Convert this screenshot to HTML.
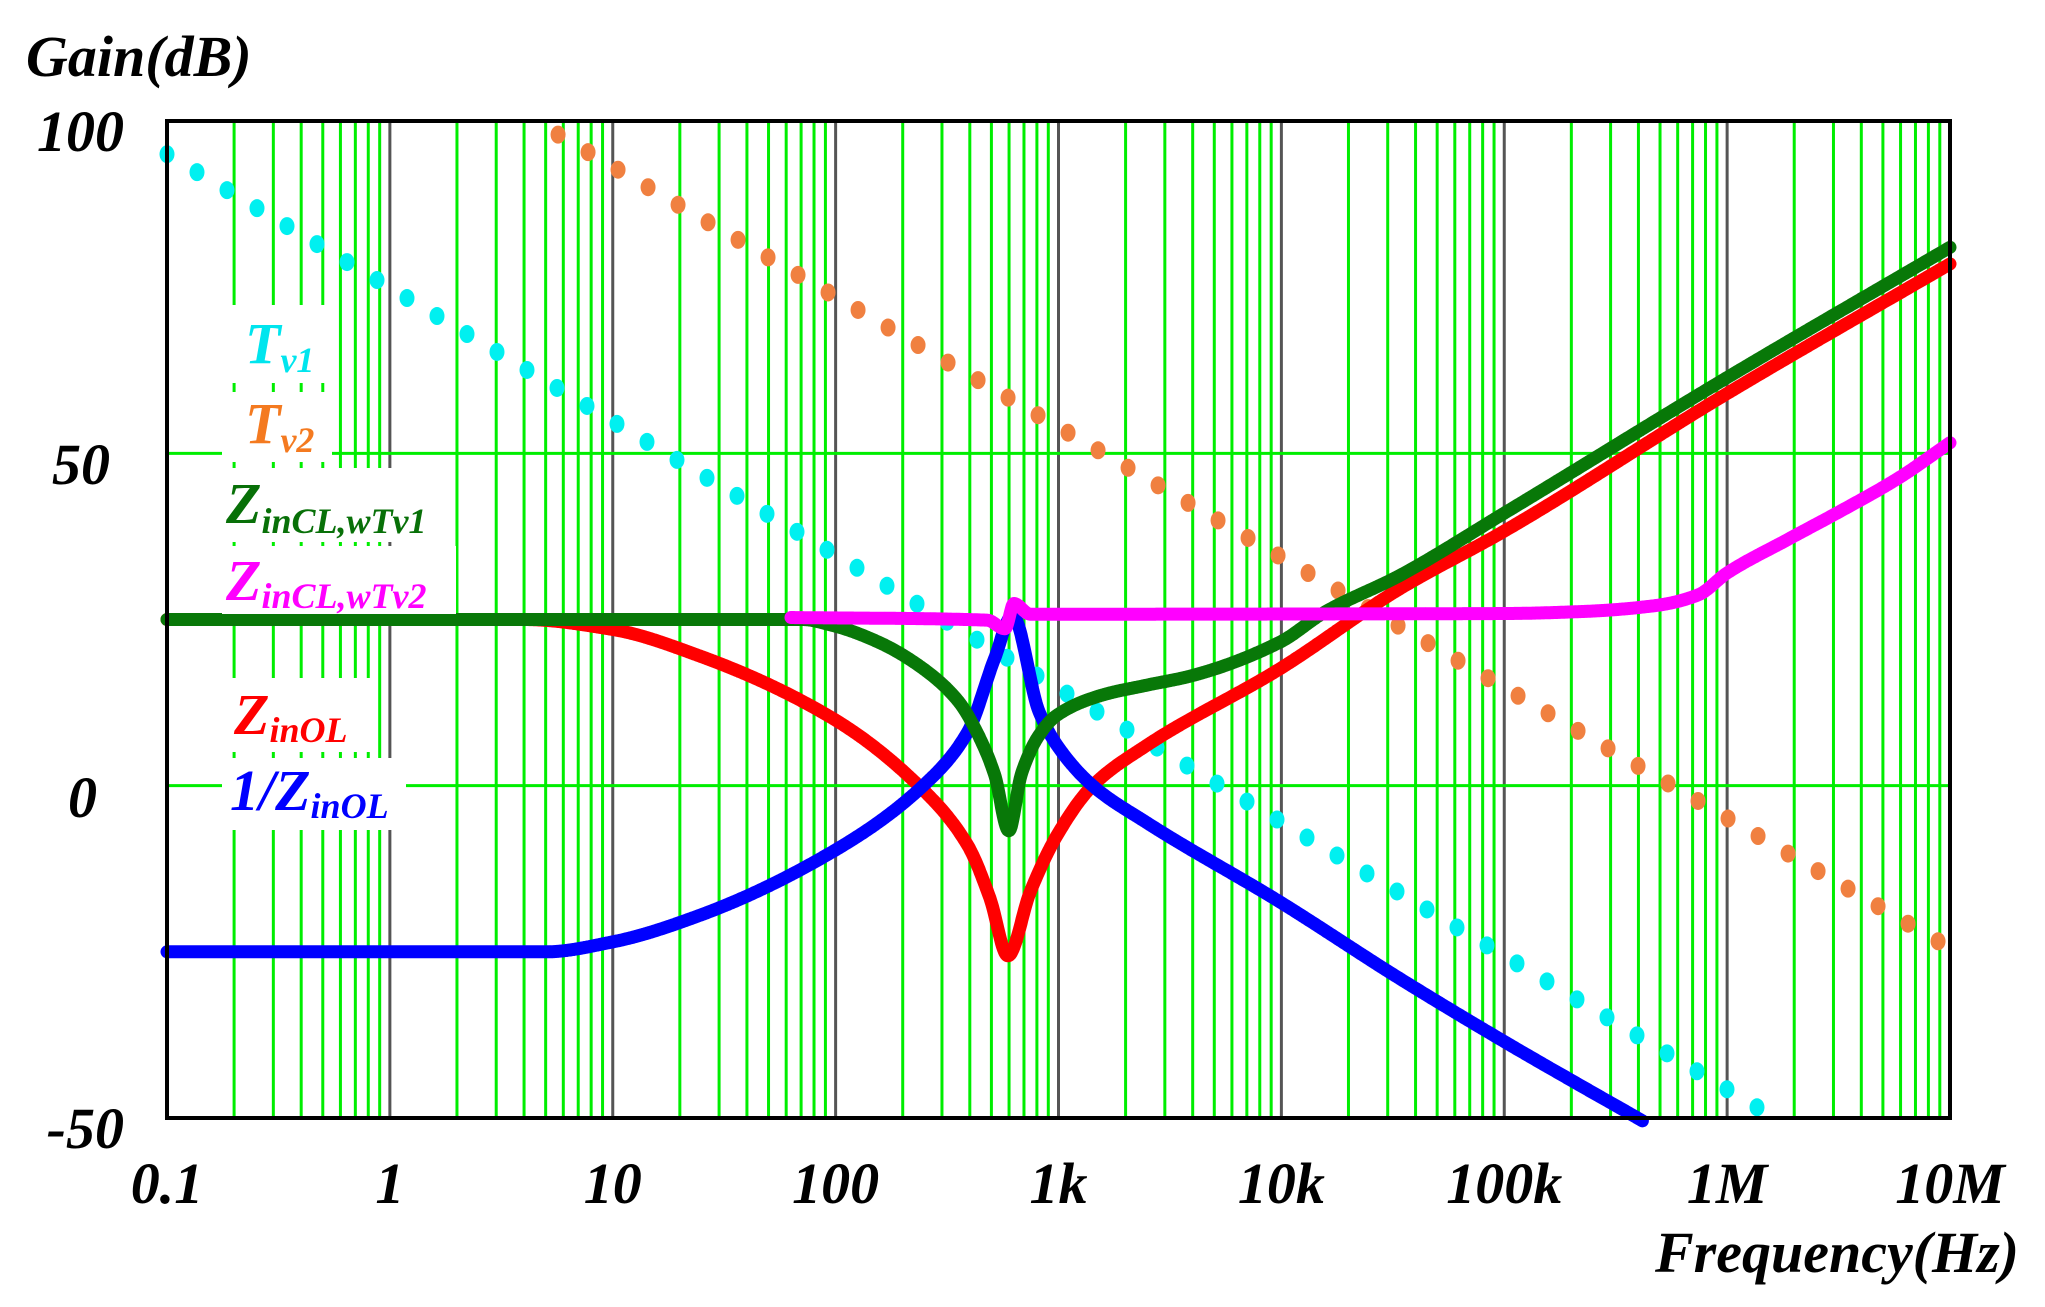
<!DOCTYPE html>
<html><head><meta charset="utf-8"><style>
html,body{margin:0;padding:0;background:#fff;}
svg{display:block;}
text{font-family:"Liberation Serif",serif;font-weight:bold;font-style:italic;}
</style></head><body>
<svg id="s" width="2045" height="1307" viewBox="0 0 2045 1307" xmlns="http://www.w3.org/2000/svg">
<rect width="2045" height="1307" fill="#fff"/>
<g id="grid"></g>
<g id="series"></g>
<g id="legend">
<rect x="222" y="305" width="106" height="78" fill="#fff"/>
<rect x="222" y="392" width="110" height="70" fill="#fff"/>
<rect x="222" y="468" width="172" height="74" fill="#fff"/>
<rect x="222" y="546" width="234" height="68" fill="#fff"/>
<rect x="222" y="678" width="148" height="74" fill="#fff"/>
<rect x="222" y="758" width="184" height="72" fill="#fff"/>
<text x="245" y="363" font-size="58" fill="#00e5ee">T<tspan font-size="36" dy="9">v1</tspan></text>
<text x="245" y="443" font-size="58" fill="#f47a20">T<tspan font-size="36" dy="9">v2</tspan></text>
<text x="226" y="523" font-size="58" fill="#087008">Z<tspan font-size="36" dy="10">inCL,wTv1</tspan></text>
<text x="226" y="600" font-size="58" fill="#ff00ff">Z<tspan font-size="36" dy="8">inCL,wTv2</tspan></text>
<text x="234" y="734" font-size="58" fill="#ff0000">Z<tspan font-size="36" dy="8">inOL</tspan></text>
<text x="230" y="810" font-size="58" fill="#0000ff">1/Z<tspan font-size="36" dy="8">inOL</tspan></text>
</g>
<rect x="167" y="121" width="1783" height="997" fill="none" stroke="#000" stroke-width="4"/>
<g font-size="58" fill="#000">
<text x="26" y="76">Gain(dB)</text>
<text x="124" y="151" text-anchor="end">100</text>
<text x="110" y="484" text-anchor="end">50</text>
<text x="97" y="817" text-anchor="end">0</text>
<text x="124" y="1148" text-anchor="end">-50</text>
<text x="2019" y="1272" text-anchor="end">Frequency(Hz)</text>
</g>
<g id="xt" font-size="58" fill="#000" text-anchor="middle"></g>
</svg>
<script>
var NS="http://www.w3.org/2000/svg";
var X0=167,X1=1950,DEC=(X1-X0)/8,YT=121,YB=1118,PD=(YB-YT)/150;
function xL(L){return X0+(L+1)*DEC;}
function yd(d){return YT+(100-d)*PD;}
function el(p,t,a){var e=document.createElementNS(NS,t);for(var k in a)e.setAttribute(k,a[k]);p.appendChild(e);return e;}
var g=document.getElementById("grid");
for(var d=-1;d<7;d++){for(var m=2;m<=9;m++){var x=xL(d+Math.log10(m));el(g,"line",{x1:x,x2:x,y1:YT,y2:YB,stroke:"#00ee00","stroke-width":3});}}
for(var d=0;d<8;d++){var x=xL(d);el(g,"line",{x1:x,x2:x,y1:YT,y2:YB,stroke:"#555","stroke-width":3});}
[0,50].forEach(function(v){el(g,"line",{x1:X0,x2:X1,y1:yd(v),y2:yd(v),stroke:"#00ee00","stroke-width":3});});
var xt=document.getElementById("xt");
["0.1","1","10","100","1k","10k","100k","1M","10M"].forEach(function(t,i){var e=el(xt,"text",{x:xL(i-1),y:1203});e.textContent=t;});
var s=document.getElementById("series");
function mono(P){var n=P.length,dl=[],m=[];for(var i=0;i<n-1;i++)dl.push((P[i+1][1]-P[i][1])/(P[i+1][0]-P[i][0]));
m[0]=dl[0];m[n-1]=dl[n-2];for(var i=1;i<n-1;i++){if(dl[i-1]*dl[i]<=0)m[i]=0;else{var w1=2*(P[i+1][0]-P[i][0])+(P[i][0]-P[i-1][0]),w2=(P[i+1][0]-P[i][0])+2*(P[i][0]-P[i-1][0]);m[i]=(w1+w2)/(w1/dl[i-1]+w2/dl[i]);}}
return function(L){if(L<=P[0][0])return P[0][1];if(L>=P[n-1][0])return P[n-1][1];var i=0;while(L>P[i+1][0])i++;var h=P[i+1][0]-P[i][0],t=(L-P[i][0])/h,t2=t*t,t3=t2*t;
return (2*t3-3*t2+1)*P[i][1]+(t3-2*t2+t)*h*m[i]+(-2*t3+3*t2)*P[i+1][1]+(t3-t2)*h*m[i+1];};}
function curve(P,col,L0,L1,w){var f=mono(P);var pts=[];var Lend=Math.min(L1,P[P.length-1][0]);for(var L=L0;L<=Lend+1e-9;L+=0.004){var v=f(L);if(v<-50.5)break;pts.push(xL(L).toFixed(1)+","+yd(v).toFixed(1));}
el(s,"polyline",{points:pts.join(" "),fill:"none",stroke:col,"stroke-width":w||13,"stroke-linejoin":"round","stroke-linecap":"round"});}
function dots(f,col,Ls){for(var x=xL(Ls);x<=X1;x+=30){var L=(x-X0)/DEC-1;var v=f(L);if(v>100.5)continue;if(v<-50.5)break;el(s,"ellipse",{cx:x,cy:yd(v),rx:7.5,ry:9,fill:col});}}
dots(function(L){return 33.1-20.1*(L-2.08);},"#00f0f0",-1);
dots(function(L){return 100-19.6*(L-0.65);},"#f08040",0.62);
var red=[[-1,25],[0.6,25],[1,23.5],[1.391,19.5],[1.988,10.1],[2.373,0],[2.593,-9],[2.693,-17],[2.773,-25.6],[2.873,-16],[2.993,-7.5],[3.153,0],[3.393,6],[3.994,17.6],[4.53,29.6],[5,38.3],[6,59],[7,78.5]];
var blue=[[-1,-25],[0.7,-25],[1,-23.5],[1.391,-19.5],[1.988,-9.9],[2.393,0],[2.593,8.1],[2.713,19.1],[2.793,25.6],[2.913,11.1],[2.993,6.1],[3.153,0],[3.393,-5.5],[3.994,-17.5],[4.53,-29],[5,-38.5],[5.65,-51]];
var green=[[-1,25],[1.85,25],[1.988,24.1],[2.192,21.6],[2.393,17.6],[2.553,12.6],[2.633,8.1],[2.713,1.7],[2.777,-6.8],[2.833,1.7],[2.913,7.6],[2.993,10.6],[3.193,13.6],[3.393,15.1],[3.593,16.5],[3.994,21.6],[4.194,26.1],[4.53,31.6],[5,41],[6,61.4],[7,81]];
var mag=[[1.8,25.3],[2.68,24.9],[2.76,23.6],[2.80,27.4],[2.873,25.8],[5.0,25.9],[5.35,26.2],[5.68,27.1],[5.87,28.7],[6,32.0],[6.27,37],[6.53,41.7],[6.77,46.3],[7,51.6]];
curve(red,"#ff0000",-1,7);
curve(blue,"#0000ff",-1,7);
curve(green,"#087808",-1,7);
curve(mag,"#ff00ff",1.8,7);
var lg=document.getElementById("legend");lg.parentNode.appendChild(lg);
</script>
</body></html>
